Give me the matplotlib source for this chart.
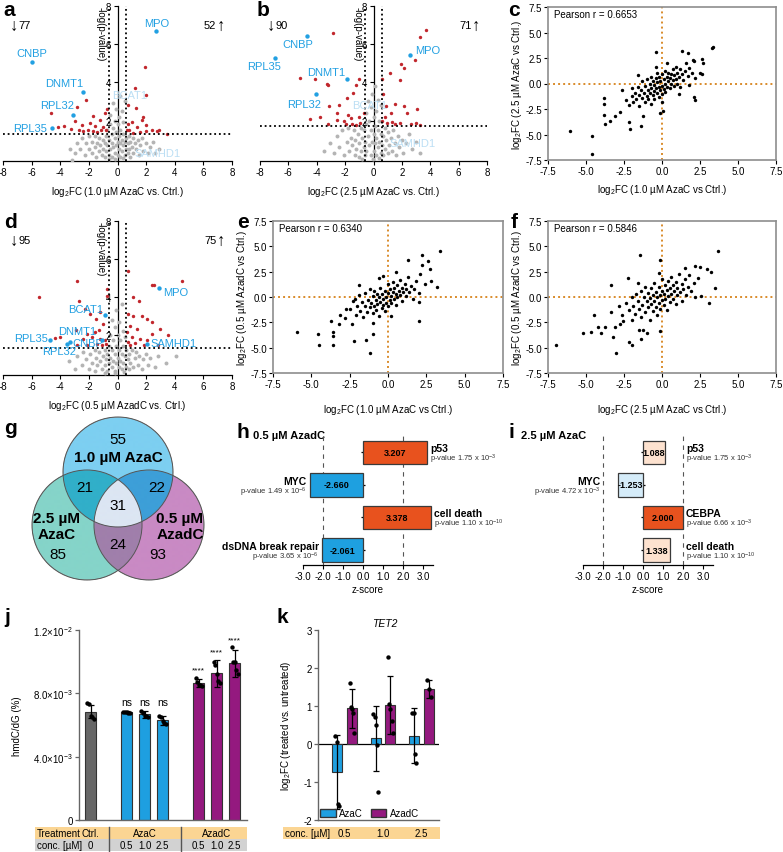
import matplotlib
matplotlib.use('Agg')
import matplotlib.pyplot as plt
import numpy as np
from matplotlib.patches import Circle, Rectangle, Patch
from matplotlib.colors import to_rgba
from matplotlib.transforms import blended_transform_factory

plt.rcParams['font.family'] = ['Liberation Sans', 'DejaVu Sans']
plt.rcParams['mathtext.fontset'] = 'custom'
plt.rcParams['mathtext.rm'] = 'Liberation Sans'
plt.rcParams['mathtext.it'] = 'Liberation Sans:italic'
plt.rcParams['mathtext.bf'] = 'Liberation Sans:bold'
plt.rcParams['mathtext.default'] = 'rm'
plt.rcParams['axes.unicode_minus'] = False
plt.rcParams['font.size'] = 7

# ---------------- data ----------------
# volcano a (1.0 uM AzaC vs Ctrl)
a_gray_x = [-3.3, -3.0, -2.8, -2.6, -2.5, -2.3, -2.2, -2.0, -2.0, -1.8, -1.8, -1.6, -1.6, -1.5, -1.4, -1.3, -1.3, -1.2, -1.1, -1.0,
            -1.0, -0.9, -0.9, -0.8, -0.8, -0.7, -0.7, -0.6, -0.6, -0.5, -0.5, -0.5, -0.4, -0.4, -0.4, -0.3, -0.3, -0.3, -0.2, -0.2,
            -0.2, -0.1, -0.1, -0.1, 0.0, 0.0, 0.0, 0.1, 0.1, 0.1, 0.2, 0.2, 0.2, 0.2, 0.3, 0.3, 0.3, 0.4, 0.4, 0.4,
            0.5, 0.5, 0.5, 0.6, 0.6, 0.7, 0.7, 0.8, 0.8, 0.9, 0.9, 1.0, 1.1, 1.1, 1.2, 1.3, 1.4, 1.5, 1.6, 1.7,
            1.8, 2.0, 2.1, 2.3, 2.5, 2.6, 2.9, -0.15, 0.35, -0.6, -3.2]
a_gray_y = [0.5, 0.3, 0.8, 0.5, 1.1, 0.2, 0.8, 0.5, 1.2, 0.3, 0.9, 0.6, 1.2, 0.1, 0.8, 0.4, 1.1, 0.7, 0.2, 1.0,
            0.5, 0.8, 0.1, 1.2, 0.4, 0.7, 1.5, 0.2, 1.0, 0.5, 1.8, 2.3, 0.8, 1.3, 0.1, 2.9, 0.6, 1.6, 0.3, 1.1,
            2.0, 0.7, 1.4, 2.6, 0.2, 0.9, 1.8, 0.5, 1.2, 2.2, 0.1, 0.8, 1.5, 3.3, 0.4, 1.0, 2.5, 0.7, 1.3, 1.9,
            0.2, 0.9, 3.0, 0.5, 1.1, 0.3, 0.8, 1.2, 0.5, 0.1, 0.9, 0.6, 1.1, 0.3, 0.8, 0.5, 1.0, 0.2, 0.7, 1.1,
            0.4, 0.8, 0.3, 0.6, 0.9, 0.3, 0.5, 0.0, 0.05, 0.0, -0.05]
a_red_x = [-4.65, -2.85, -2.2, -3.74, -4.14, -3.27, -2.51, -1.93, -2.04, -1.58, -1.22, -1.18, -0.81, -0.76, -1.0, -1.4, -1.7,
           -2.4, -2.7, -0.84, -1.7, -2.96,
           1.92, 1.22, 2.0, 1.31, 0.73, 1.75, 2.0, 2.39, 2.93, 3.43, 2.74, 1.58, 1.11, 0.76, 0.99, 0.83, 1.35, 1.99, 0.65, 1.7]
a_red_y = [2.37, 2.72, 3.1, 1.7, 1.67, 1.54, 1.79, 1.89, 1.49, 1.7, 2.02, 1.49, 1.49, 2.63, 1.67, 1.4, 1.44,
           1.44, 1.52, 2.37, 2.25, 2.0,
           4.82, 3.72, 3.33, 2.67, 2.82, 2.19, 1.75, 1.49, 1.49, 1.32, 1.44, 1.4, 1.37, 1.84, 1.93, 1.49, 1.67, 1.44, 1.49, 2.02]
a_genes = ['CNBP', 'DNMT1', 'RPL32', 'RPL35', 'MPO']
a_gene_x = [-6.0, -2.39, -3.13, -4.6, 2.67]
a_gene_y = [5.09, 3.51, 2.28, 1.6, 6.67]
a_faded = ['BCAT1', 'SAMHD1']
a_counts = [77, 52]
a_thr = 1.28

# volcano b (2.5 uM AzaC vs Ctrl)
b_gray_x = [-3.5, -3.1, -2.8, -2.6, -2.4, -2.2, -2.1, -1.9, -1.8, -1.7, -1.6, -1.5, -1.4, -1.3, -1.3, -1.2, -1.1, -1.0, -1.0, -0.9,
            -0.9, -0.8, -0.7, -0.7, -0.6, -0.6, -0.5, -0.5, -0.5, -0.4, -0.4, -0.3, -0.3, -0.2, -0.2, -0.2, -0.1, -0.1, 0.0, 0.0,
            0.0, 0.1, 0.1, 0.1, 0.2, 0.2, 0.2, 0.3, 0.3, 0.3, 0.4, 0.4, 0.5, 0.5, 0.5, 0.6, 0.7, 0.7, 0.8, 0.8,
            0.9, 1.0, 1.0, 1.1, 1.2, 1.3, 1.4, 1.5, 1.6, 1.7, 1.8, 2.0, 2.1, 2.3, 2.5, 2.7, 3.0, 3.3, -0.05, 0.4, -0.8]
b_gray_y = [0.4, 0.8, 0.3, 1.2, 0.6, 1.5, 0.2, 0.9, 1.6, 0.4, 1.1, 0.7, 1.5, 0.2, 1.0, 0.5, 1.3, 0.8, 0.1, 1.6,
            0.4, 1.1, 0.6, 1.5, 0.2, 0.9, 1.8, 2.4, 0.4, 1.2, 3.0, 0.7, 2.0, 0.2, 1.5, 2.7, 0.9, 3.4, 0.4, 1.3,
            2.2, 0.8, 1.7, 3.8, 0.2, 1.1, 2.5, 0.6, 1.5, 3.1, 0.9, 2.0, 0.3, 1.3, 2.8, 0.7, 1.2, 0.2, 1.6, 0.5,
            1.0, 0.3, 1.4, 0.7, 1.1, 0.4, 1.5, 0.8, 0.2, 1.2, 0.6, 1.0, 0.3, 0.8, 1.3, 0.5, 0.9, 0.3, 0.0, 0.05, 0.0]
b_red_x = [-2.84, -5.19, -4.15, -3.26, -3.2, -3.15, -3.8, -4.5, -2.46, -2.55, -1.85, -1.48, -1.2, -1.0, -1.97, -1.62, -1.03,
           -0.68, -0.94, -1.79, -2.6, -3.2, -1.5, -1.2, -2.08,
           3.71, 3.31, 2.96, 1.94, 2.18, 1.9, 1.14, 0.6, 0.67, 0.9, 2.18, 2.37, 3.07, 1.5, 1.2, 0.8, 0.6, 1.33, 1.84,
           2.66, 3.02, 0.94, 1.5, 3.3]
b_red_y = [6.61, 4.21, 4.16, 3.9, 3.85, 2.77, 2.2, 2.08, 2.81, 2.37, 3.16, 3.42, 3.86, 4.2, 1.84, 2.11, 2.19,
           2.37, 1.89, 2.28, 2.02, 1.84, 1.84, 1.79, 1.96,
           6.75, 6.35, 5.18, 4.96, 4.74, 4.1, 4.5, 4.2, 3.4, 2.77, 2.77, 2.37, 2.63, 2.86, 2.42, 2.16, 1.98, 1.93, 1.86,
           1.84, 1.89, 1.89, 1.84, 1.79]
b_genes = ['CNBP', 'RPL35', 'DNMT1', 'RPL32', 'MPO']
b_gene_x = [-4.67, -6.97, -1.9, -4.08, 2.56]
b_gene_y = [6.44, 5.26, 4.17, 3.38, 5.44]
b_faded = ['BCAT1', 'SAMHD1']
b_counts = [90, 71]
b_thr = 1.73

# volcano d (0.5 uM AzadC vs Ctrl)
d_gray_x = [-3.4, -3.0, -2.8, -2.5, -2.4, -2.2, -2.0, -1.9, -1.8, -1.6, -1.6, -1.5, -1.4, -1.3, -1.2, -1.1, -1.0, -0.9, -0.9, -0.8,
            -0.7, -0.7, -0.6, -0.6, -0.5, -0.5, -0.4, -0.4, -0.4, -0.3, -0.3, -0.2, -0.2, -0.2, -0.1, -0.1, -0.1, 0.0, 0.0, 0.1,
            0.1, 0.1, 0.2, 0.2, 0.3, 0.3, 0.3, 0.4, 0.4, 0.4, 0.5, 0.5, 0.6, 0.6, 0.7, 0.8, 0.8, 0.9, 1.0, 1.1,
            1.2, 1.3, 1.4, 1.5, 1.7, 1.8, 2.0, 2.1, 2.3, 2.6, 2.8, 3.4, -0.15, 0.45, -0.9, 4.1]
d_gray_y = [0.6, 0.2, 0.9, 0.4, 1.1, 0.7, 0.2, 1.0, 0.5, 1.2, 0.1, 0.8, 0.4, 1.1, 0.6, 0.2, 0.9, 0.4, 1.2, 0.7,
            0.1, 1.0, 0.5, 1.4, 2.0, 0.8, 2.8, 0.3, 1.2, 1.7, 0.6, 2.4, 1.0, 0.1, 3.3, 1.4, 0.5, 2.0, 0.8, 2.7,
            1.2, 0.3, 1.7, 0.6, 3.6, 1.0, 0.2, 2.2, 1.4, 0.5, 0.9, 1.9, 0.3, 1.2, 0.7, 0.2, 1.0, 0.5, 1.2, 0.3,
            0.8, 1.1, 0.4, 0.9, 0.2, 0.7, 1.0, 0.4, 0.8, 0.3, 0.9, 0.5, 0.0, 0.05, 0.0, 0.9]
d_red_x = [-2.81, -5.47, -2.67, -2.27, -1.92, -1.5, -1.22, -0.71, -0.76, -0.99, -1.27, -1.57, -2.15, -2.9, -4.0, -4.35, -2.4,
           -1.8, -1.22, -0.87, -0.8, -1.45, -2.15, -2.84, -1.1,
           2.39, 2.57, 4.52, 0.71, 1.11, 1.47, 0.76, 1.11, 1.7, 2.04, 2.39, 2.97, 3.55, 2.43, 1.35, 0.88, 0.65, 1.0, 1.58,
           2.04, 0.76, 1.23, 1.82, 0.88, 2.85]
d_red_y = [4.86, 3.98, 3.8, 3.35, 3.1, 2.84, 3.19, 4.42, 4.07, 2.58, 2.23, 2.14, 2.05, 2.23, 1.88, 1.82, 1.79,
           1.88, 1.79, 1.7, 1.53, 1.53, 1.47, 1.44, 1.44,
           4.63, 4.63, 4.86, 5.39, 3.98, 3.8, 3.1, 3.0, 3.0, 2.84, 2.67, 2.32, 2.0, 2.05, 2.32, 2.49, 2.14, 1.88, 1.79,
           1.7, 1.61, 1.58, 1.47, 1.44, 1.47]
d_genes = ['MPO', 'BCAT1', 'DNMT1', 'CNBP', 'RPL35', 'RPL32', 'SAMHD1']
d_gene_x = [2.92, -0.87, -1.1, -3.3, -4.72, -3.55, 2.04]
d_gene_y = [4.46, 3.02, 1.75, 1.6, 1.7, 1.5, 1.49]
d_faded = []
d_counts = [95, 75]
d_thr = 1.32

# scatter c: 1.0 uM AzaC (x) vs 2.5 uM AzaC (y)
c_x = [-2.4, -2.2, -2.0, -2.0, -1.9, -1.8, -1.7, -1.6, -1.5, -1.5, -1.4, -1.3, -1.3, -1.2, -1.1, -1.1, -1.0, -1.0, -0.9, -0.9,
       -0.8, -0.8, -0.7, -0.7, -0.7, -0.6, -0.6, -0.5, -0.5, -0.5, -0.4, -0.4, -0.3, -0.3, -0.3, -0.2, -0.2, -0.2, -0.1, -0.1,
       0.0, 0.0, 0.0, 0.1, 0.1, 0.2, 0.2, 0.2, 0.3, 0.3, 0.4, 0.4, 0.5, 0.5, 0.6, 0.6, 0.7, 0.7, 0.8, 0.8,
       0.9, 0.9, 1.0, 1.0, 1.1, 1.2, 1.2, 1.3, 1.4, 1.5, 1.6, 1.7, 1.8, 2.0, 2.1, 2.2, 0.3, -0.4, -1.6, 1.1,
       0.0, -2.6, -6.05, -4.63, -4.63, 3.38, 3.3, -0.39, 1.3, 1.74, 2.07, 2.62, 2.73, 2.5, 2.6, 2.1, 1.8, -3.82,
       -3.8, -3.8, -3.74, -3.1, -3.42, -2.76, -2.2, -2.1, -1.35, -1.23, 0.09, 2.2, -0.1]
c_y = [-1.6, -2.1, -1.2, -0.4, -1.8, -0.9, -1.5, -0.3, -1.1, -2.2, -0.6, -1.4, 0.2, -0.9, -1.8, -0.2, -1.2, 0.4, -0.6, -1.5,
       0.0, -0.9, -0.4, -2.0, 0.6, -1.1, 0.2, -0.7, -0.1, -1.5, 0.5, -0.4, -0.9, 0.1, 1.0, -0.3, -1.3, 0.6, -0.6, 0.2,
       -0.2, 0.9, -1.0, 0.4, -0.5, 0.0, 1.2, -0.8, 0.6, -0.3, 0.2, 1.0, -0.4, 0.5, 0.9, 0.0, 1.4, 0.3, -0.2, 0.8,
       0.4, 1.6, 0.0, 1.0, 0.6, 1.4, -0.3, 0.9, 0.3, 1.2, 2.0, 0.7, 1.5, 1.0, 2.2, 0.5, 2.0, 1.6, 0.8, -1.0,
       -1.8, -0.6, -4.62, -5.18, -6.9, 3.57, 3.5, 3.12, 3.2, 3.0, 2.3, 2.43, 2.0, 1.0, 0.9, -1.37, -0.1, -1.45,
       -1.99, -3.1, -4.0, -3.15, -3.7, -2.83, -3.8, -4.45, -4.15, -3.15, -2.67, -1.6, -2.9]
c_r = '0.6653'

# scatter e: 1.0 uM AzaC (x) vs 0.5 uM AzadC (y)
e_x = [-2.5, -2.3, -2.1, -2.0, -1.9, -1.8, -1.7, -1.6, -1.5, -1.5, -1.4, -1.3, -1.2, -1.2, -1.1, -1.0, -1.0, -0.9, -0.9, -0.8,
       -0.8, -0.7, -0.7, -0.6, -0.6, -0.5, -0.5, -0.4, -0.4, -0.3, -0.3, -0.2, -0.2, -0.1, -0.1, 0.0, 0.0, 0.0, 0.1, 0.1,
       0.2, 0.2, 0.3, 0.3, 0.4, 0.4, 0.5, 0.5, 0.6, 0.6, 0.7, 0.8, 0.8, 0.9, 0.9, 1.0, 1.1, 1.2, 1.2, 1.3,
       1.4, 1.5, 1.6, 1.7, 1.8, 2.0, 2.1, -0.3, 0.5, -2.8, -1.0, 0.2,
       3.39, 2.24, 2.59, 1.28, 2.74, 2.24, 2.8, 3.2, 2.39, 2.04, 2.0, -5.96, -4.54, -4.5, -3.6, -3.6, -3.56, -3.72,
       -3.22, -3.12, -2.2, -1.44, -1.17, -0.96, -1.87, -2.15, -2.74, -2.37, -0.61]
e_y = [-1.2, -0.4, -1.8, -0.9, 0.2, -1.4, -0.5, -2.0, -0.9, 0.4, -1.5, -0.3, -1.0, 0.8, -0.6, -1.6, 0.1, -0.9, 0.6, -0.3,
       -1.3, 0.3, -0.7, -1.9, 0.0, -0.5, 0.9, -1.1, 0.3, -0.2, -0.8, 0.6, -1.4, 0.0, -0.6, 0.4, 1.3, -0.9, -0.3, 0.8,
       0.1, -0.6, 0.5, 1.5, -0.2, 0.9, 0.3, -0.8, 1.2, 0.0, 0.6, 1.7, 0.2, 0.9, -0.4, 0.5, 1.3, 0.1, 0.8, 2.0,
       0.5, 1.1, -0.2, 0.8, 1.6, 0.4, 2.3, 2.1, 2.5, -2.1, -2.6, -1.9,
       4.57, 4.17, 3.59, 3.62, 2.77, 3.15, 1.6, 0.95, 1.29, -0.52, -2.33, -3.42, -3.65, -4.74, -3.5, -3.85, -4.74, -2.33,
       -2.67, -1.78, -4.38, -4.2, -5.56, -3.65, 1.18, -0.19, -1.18, -2.67, 1.9]
e_r = '0.6340'

# scatter f: 2.5 uM AzaC (x) vs 0.5 uM AzadC (y)
f_x = [-2.6, -2.4, -2.2, -2.0, -2.0, -1.9, -1.8, -1.7, -1.6, -1.5, -1.4, -1.4, -1.3, -1.2, -1.1, -1.1, -1.0, -0.9, -0.9, -0.8,
       -0.8, -0.7, -0.7, -0.6, -0.6, -0.5, -0.5, -0.4, -0.4, -0.3, -0.3, -0.2, -0.2, -0.1, -0.1, 0.0, 0.0, 0.0, 0.1, 0.1,
       0.2, 0.2, 0.3, 0.3, 0.4, 0.4, 0.5, 0.5, 0.6, 0.6, 0.7, 0.7, 0.8, 0.9, 0.9, 1.0, 1.0, 1.1, 1.2, 1.3,
       1.3, 1.4, 1.5, 1.6, 1.7, 1.8, 1.9, 2.1, 2.2, 2.4, -0.2, -1.6, -2.8,
       3.66, -1.45, -0.13, 2.17, 2.94, 3.22, 2.5, 1.5, -2.22, -3.38, 2.58, 3.5, 3.08, -6.97, -5.22, -4.67, -4.47, -4.19,
       -4.04, -3.75, -3.38, -3.2, -3.03, -2.15, -2.0, -1.5, -1.27, -1.4, -1.0, -0.13, -2.59, -2.78, -3.1]
f_y = [-1.8, -0.6, -1.3, -2.3, 0.0, -0.9, -1.7, 0.3, -0.4, -1.2, -2.0, 0.6, -0.8, 0.0, -1.5, 1.0, -0.4, -1.0, 0.4, -2.3,
       -0.1, -0.7, 0.9, -1.4, 0.2, -0.4, 1.4, -1.0, 0.5, 0.0, -1.8, -0.6, 1.0, 0.2, -1.2, 0.6, -0.3, 1.8, -0.8, 0.3,
       1.2, -0.2, 0.7, -1.3, 0.1, 1.6, -0.5, 0.9, 0.3, 2.0, -0.2, 1.2, 0.6, -0.7, 1.5, 0.2, 0.9, 2.3, 0.5, 1.3,
       -0.4, 0.8, 1.8, 0.2, 1.0, 2.2, 0.6, 1.4, 0.0, 1.9, 2.4, 1.4, -0.9,
       4.57, 4.15, 3.62, 3.09, 2.77, 2.5, 2.95, 2.86, 1.85, 1.2, 0.06, 0.9, -0.6, -4.7, -3.6, -3.43, -1.78, -2.93,
       -3.55, -3.0, -1.5, -3.97, -5.56, -4.41, -4.74, -3.26, -3.26, -4.15, -3.55, -3.33, -2.33, -2.67, -3.0]
f_r = '0.5846'

# Venn g
venn_sets = ['1.0 µM AzaC', '2.5 µM\nAzaC', '0.5 µM\nAzadC']
venn_only = [55, 85, 93]          # top, left, right only
venn_pairs = [21, 22, 24]         # top&left, top&right, left&right
venn_all = 31

# IPA z-scores h / i
h_terms = ['p53', 'MYC', 'cell death', 'dsDNA break repair']
h_z = [3.207, -2.660, 3.378, -2.061]
h_p = ['1.75 x 10$^{-3}$', '1.49 x 10$^{-6}$', '1.10 x 10$^{-10}$', '3.65 x 10$^{-6}$']
i_terms = ['p53', 'MYC', 'CEBPA', 'cell death']
i_z = [1.088, -1.253, 2.000, 1.338]
i_p = ['1.75 x 10$^{-3}$', '4.72 x 10$^{-3}$', '6.66 x 10$^{-3}$', '1.10 x 10$^{-10}$']

# j: hmdC/dG
j_treat = ['Ctrl.', 'AzaC', 'AzaC', 'AzaC', 'AzadC', 'AzadC', 'AzadC']
j_conc = ['0', '0.5', '1.0', '2.5', '0.5', '1.0', '2.5']
j_mean = [6.84e-3, 6.80e-3, 6.67e-3, 6.30e-3, 8.63e-3, 9.27e-3, 9.90e-3]
j_sd = [0.42e-3, 0.07e-3, 0.22e-3, 0.30e-3, 0.25e-3, 0.85e-3, 0.85e-3]
j_points = [[7.40e-3, 7.30e-3, 6.60e-3, 6.50e-3, 6.40e-3],
            [6.85e-3, 6.80e-3, 6.80e-3, 6.78e-3, 6.77e-3],
            [6.90e-3, 6.75e-3, 6.60e-3, 6.60e-3, 6.50e-3],
            [6.60e-3, 6.50e-3, 6.25e-3, 6.10e-3, 6.05e-3],
            [8.95e-3, 8.70e-3, 8.55e-3, 8.50e-3, 8.45e-3],
            [9.95e-3, 9.80e-3, 9.20e-3, 8.75e-3, 8.65e-3],
            [10.9e-3, 10.0e-3, 9.95e-3, 9.45e-3, 9.20e-3]]
j_sig = ['', 'ns', 'ns', 'ns', '****', '****', '****']

# k: TET2 log2FC
k_conc = ['0.5', '1.0', '2.5']
k_aza_mean = [-0.73, 0.15, 0.22]
k_aza_sd = [0.97, 0.85, 0.72]
k_aza_pts = [[0.22, 0.05, -1.58, -1.62], [0.78, 0.70, 0.50, -0.02, -1.25], [0.82, 0.82, -0.27, -0.50]]
k_azad_mean = [0.94, 1.03, 1.45]
k_azad_sd = [0.52, 0.77, 0.23]
k_azad_pts = [[1.60, 0.98, 0.92, 0.82, 0.30], [2.30, 1.05, 0.92, 0.60, 0.30], [1.68, 1.45, 1.25]]

# ---------------- layout helpers ----------------
W, H = 783, 853
BLUE = '#1e9fe0'
PURPLE = '#94197f'
ORANGE_BG = '#fbd593'
GRAY_BG = '#d2d2d2'


def box(l, t, r, b):
    return [l / W, 1 - b / H, (r - l) / W, (b - t) / H]


fig = plt.figure(figsize=(W / 100, H / 100), dpi=100)
canvas = fig.add_axes([0, 0, 1, 1])
canvas.set_xlim(0, W)
canvas.set_ylim(H, 0)
canvas.axis('off')

for letter, x, y in [('a', 3, 16), ('b', 257, 16), ('c', 508, 16), ('d', 4, 228), ('e', 237, 228),
                     ('f', 511, 228), ('g', 4, 434), ('h', 236, 438), ('i', 509, 438), ('j', 4, 623),
                     ('k', 277, 623)]:
    canvas.text(x, y, letter, fontsize=15, fontweight='bold', va='baseline', ha='left')

DOT = (0, (1, 1.6))


def volcano(ax, gx, gy, rx, ry, genes, genx, geny, labpos, faded, fadedpos, thr, counts, xlabel):
    ax.scatter(gx, gy, s=8, color='#b4b4b4', lw=0, zorder=1)
    ax.scatter(rx, ry, s=6, color='#c1272d', lw=0, zorder=2)
    ax.axhline(thr, color='black', ls=DOT, lw=1.3, zorder=3)
    for v in (-0.58, 0.58):
        ax.axvline(v, color='black', ls=DOT, lw=1.3, zorder=3)
    for g, x, y, (tx, ty, ha) in zip(genes, genx, geny, labpos):
        ax.scatter([x], [y], s=10, color='#22a0e2', lw=0, zorder=4)
        ax.text(tx, ty, g, color='#22a0e2', ha=ha, va='center', fontsize=8, zorder=5)
    for g, (tx, ty, ha) in zip(faded, fadedpos):
        ax.text(tx, ty, g, color='#bcdff4', ha=ha, va='center', fontsize=8, zorder=5)
    ax.text(-7.55, 7.0, '↓', ha='left', va='center', fontsize=12)
    ax.text(-6.9, 7.0, str(counts[0]), ha='left', va='center', fontsize=8)
    ax.text(7.55, 7.0, '↑', ha='right', va='center', fontsize=12)
    ax.text(6.9, 7.0, str(counts[1]), ha='right', va='center', fontsize=8)
    ax.set_xlim(-8, 8)
    ax.set_ylim(-0.12, 8)
    ax.spines['left'].set_position(('data', 0))
    ax.spines[['top', 'right']].set_visible(False)
    for s in ('left', 'bottom'):
        ax.spines[s].set_linewidth(0.9)
        ax.spines[s].set_zorder(0.5)
    ax.set_xticks(range(-8, 9, 2))
    ax.set_yticks([2, 4, 6, 8])
    ax.tick_params(labelsize=7, length=3, width=0.8, pad=1.5)
    ax.text(-1.15, 8.0, '-log(p-value)', rotation=270, ha='center', va='top', fontsize=7)
    ax.set_xlabel(xlabel, fontsize=7, labelpad=5)
    ax.patch.set_visible(False)


ax_a = fig.add_axes(box(3, 7, 232, 162))
volcano(ax_a, a_gray_x, a_gray_y, a_red_x, a_red_y, a_genes, a_gene_x, a_gene_y,
        [(-6.0, 5.55, 'center'), (-2.4, 3.95, 'right'), (-3.0, 2.8, 'right'), (-4.9, 1.63, 'right'), (2.74, 7.1, 'center')],
        a_faded, [(-0.4, 3.33, 'left'), (1.2, 0.32, 'left')], a_thr, a_counts,
        'log$_2$FC (1.0 µM AzaC vs. Ctrl.)')

ax_b = fig.add_axes(box(260, 7, 487, 162))
volcano(ax_b, b_gray_x, b_gray_y, b_red_x, b_red_y, b_genes, b_gene_x, b_gene_y,
        [(-5.3, 6.0, 'center'), (-7.7, 4.84, 'center'), (-3.32, 4.56, 'center'), (-4.86, 2.89, 'center'), (2.9, 5.7, 'left')],
        b_faded, [(-1.5, 2.8, 'left'), (1.15, 0.84, 'left')], b_thr, b_counts,
        'log$_2$FC (2.5 µM AzaC vs. Ctrl.)')

ax_d = fig.add_axes(box(3, 222, 232, 376))
volcano(ax_d, d_gray_x, d_gray_y, d_red_x, d_red_y, d_genes, d_gene_x, d_gene_y,
        [(3.16, 4.28, 'left'), (-1.0, 3.37, 'right'), (-1.45, 2.19, 'right'), (-3.15, 1.58, 'left'),
         (-4.84, 1.83, 'right'), (-2.9, 1.17, 'right'), (2.27, 1.58, 'left')],
        d_faded, [], d_thr, d_counts,
        'log$_2$FC (0.5 µM AzadC vs. Ctrl.)')


def corr(ax, x, y, r, xlabel, ylabel, xpad):
    ax.axhline(0, color='#d98b2b', ls=DOT, lw=1.4, zorder=1)
    ax.axvline(0, color='#d98b2b', ls=DOT, lw=1.4, zorder=1)
    ax.scatter(x, y, s=6, color='black', lw=0, zorder=2)
    ax.set_xlim(-7.5, 7.5)
    ax.set_ylim(-7.5, 7.5)
    t = [-7.5, -5.0, -2.5, 0.0, 2.5, 5.0, 7.5]
    ax.set_xticks(t)
    ax.set_yticks(t)
    ax.set_xticklabels(['%.1f' % v for v in t])
    ax.set_yticklabels(['%.1f' % v for v in t])
    for sp in ax.spines.values():
        sp.set_color('#8e8e8e')
        sp.set_linewidth(1.2)
    ax.tick_params(length=3, width=0.8, labelsize=7, pad=1.5)
    ax.text(0.025, 0.955, 'Pearson r = ' + r, transform=ax.transAxes, va='center', ha='left', fontsize=7)
    ax.set_xlabel(xlabel, fontsize=7, labelpad=xpad)
    ax.set_ylabel(ylabel, fontsize=7, labelpad=1)


ax_c = fig.add_axes(box(548, 8, 776, 161))
corr(ax_c, c_x, c_y, c_r, 'log$_2$FC (1.0 µM AzaC vs Ctrl.)', 'log$_2$FC (2.5 µM AzaC vs Ctrl.)', 4)
ax_e = fig.add_axes(box(273, 222, 503, 374))
corr(ax_e, e_x, e_y, e_r, 'log$_2$FC (1.0 µM AzaC vs Ctrl.)', 'log$_2$FC (0.5 µM AzadC vs Ctrl.)', 9)
ax_f = fig.add_axes(box(548, 222, 776, 374))
corr(ax_f, f_x, f_y, f_r, 'log$_2$FC (2.5 µM AzaC vs Ctrl.)', 'log$_2$FC (0.5 µM AzadC vs Ctrl.)', 9)

# ---------------- g: Venn ----------------
ax_g = fig.add_axes(box(0, 405, 240, 600))
ax_g.set_xlim(0, 240)
ax_g.set_ylim(600, 405)
ax_g.axis('off')
centers = [(118, 473), (87, 526), (149, 526)]
R = 55
xx, yy = np.meshgrid(np.linspace(0, 240, 721), np.linspace(405, 600, 586))
inside = [(xx - cx) ** 2 + (yy - cy) ** 2 <= R ** 2 for cx, cy in centers]
img = np.zeros(xx.shape + (4,))
region_cols = {(1, 0, 0): '#7dcff1', (0, 1, 0): '#85d4c9', (0, 0, 1): '#c98ac4',
               (1, 1, 0): '#31afc9', (1, 0, 1): '#3d9fd8', (0, 1, 1): '#a07fab', (1, 1, 1): '#dce6f3'}
for key, col in region_cols.items():
    m = np.ones(xx.shape, bool)
    for k, inn in zip(key, inside):
        m &= inn if k else ~inn
    img[m] = to_rgba(col)
ax_g.imshow(img, extent=(0, 240, 600, 405), origin='upper', interpolation='bilinear', aspect='auto')
for cx, cy in centers:
    ax_g.add_patch(Circle((cx, cy), R, fill=False, ec='#555555', lw=0.7))
vfs = 11
ax_g.text(118, 440, str(venn_only[0]), ha='center', va='center', fontsize=vfs)
ax_g.text(118, 458, venn_sets[0], ha='center', va='center', fontsize=vfs, fontweight='bold')
ax_g.text(57, 527, venn_sets[1], ha='center', va='center', fontsize=vfs, fontweight='bold', linespacing=1.2)
ax_g.text(58, 555, str(venn_only[1]), ha='center', va='center', fontsize=vfs)
ax_g.text(180, 527, venn_sets[2], ha='center', va='center', fontsize=vfs, fontweight='bold', linespacing=1.2)
ax_g.text(158, 555, str(venn_only[2]), ha='center', va='center', fontsize=vfs)
ax_g.text(85, 488, str(venn_pairs[0]), ha='center', va='center', fontsize=vfs)
ax_g.text(157, 488, str(venn_pairs[1]), ha='center', va='center', fontsize=vfs)
ax_g.text(118, 545, str(venn_pairs[2]), ha='center', va='center', fontsize=vfs)
ax_g.text(118, 506, str(venn_all), ha='center', va='center', fontsize=vfs)


# ---------------- h / i: z-scores ----------------
def zbars(ax, terms, z, pv):
    cols = []
    for v in z:
        if v > 0:
            cols.append('#e8521e' if v >= 2 else '#fde2cf')
        else:
            cols.append('#1ea0e0' if v <= -2 else '#d5ecf9')
    yy_ = np.arange(len(z))
    for v in (-2, 2):
        ax.axvline(v, color='#555555', ls=(0, (4, 4)), lw=0.8, zorder=0)
    ax.barh(yy_, z, height=0.72, color=cols, edgecolor='#3a3a3a', lw=0.9, zorder=2)
    for i, (t, v, p) in enumerate(zip(terms, z, pv)):
        ax.text(v / 2, i, '%.3f' % v, ha='center', va='center', fontsize=6.5, fontweight='bold', zorder=3)
        if v > 0:
            lx, ha = max(v, 2.0) + 0.15, 'left'
        else:
            lx, ha = min(v, -2.0) - 0.15, 'right'
        ax.text(lx, i - 0.13, t, ha=ha, va='center', fontsize=7.5, fontweight='bold')
        ax.text(lx, i + 0.19, 'p-value ' + p, ha=ha, va='center', fontsize=5.5, color='#333333')
    ax.set_xlim(-3, 3.5)
    ax.set_ylim(3.46, -0.5)
    ax.spines['left'].set_position(('data', 0))
    ax.spines['left'].set_visible(False)
    ax.spines[['top', 'right']].set_visible(False)
    ax.spines['bottom'].set_linewidth(0.9)
    ax.set_yticks(yy_)
    ax.set_yticklabels([])
    ax.set_xticks(np.arange(-3, 3.1, 1))
    ax.set_xticklabels(['%.1f' % v for v in np.arange(-3, 3.1, 1)])
    ax.tick_params(axis='y', length=3, width=0.9, direction='inout')
    ax.tick_params(axis='x', length=3, width=0.8, labelsize=7, pad=1.5)
    ax.set_xlabel('z-score', fontsize=7, labelpad=2)
    ax.patch.set_visible(False)


ax_h = fig.add_axes(box(303, 437, 433, 566))
zbars(ax_h, h_terms, h_z, h_p)
canvas.text(253, 439, '0.5 µM AzadC', fontsize=8, fontweight='bold', ha='left', va='baseline')
ax_i = fig.add_axes(box(583, 437, 713, 566))
zbars(ax_i, i_terms, i_z, i_p)
canvas.text(521, 439, '2.5 µM AzaC', fontsize=8, fontweight='bold', ha='left', va='baseline')

# ---------------- j: hmdC/dG ----------------
treat_col = {'Ctrl.': '#666666', 'AzaC': BLUE, 'AzadC': PURPLE}
ax_j = fig.add_axes(box(79, 631, 247, 821))
pos_j = [0, 2, 3, 4, 6, 7, 8]
ax_j.bar(pos_j, j_mean, width=0.6, color=[treat_col[t] for t in j_treat], edgecolor='#333333', lw=0.8, zorder=2)
ax_j.errorbar(pos_j, j_mean, yerr=j_sd, fmt='none', ecolor='black', elinewidth=0.9, capsize=2.5, capthick=0.9, zorder=3)
offs5 = [-0.17, -0.09, 0.0, 0.09, 0.17]
for p, pts in zip(pos_j, j_points):
    ax_j.scatter([p + o for o in offs5[:len(pts)]], pts, s=10, color='black', lw=0, zorder=4)
ns_top = max(max(max(pts), m + s) for pts, m, s, g in zip(j_points, j_mean, j_sd, j_sig) if g == 'ns')
for p, pts, m, s, g in zip(pos_j, j_points, j_mean, j_sd, j_sig):
    if g == 'ns':
        ax_j.text(p, ns_top + 0.55e-3, g, ha='center', va='center', fontsize=7.5)
    elif g:
        ax_j.text(p, max(max(pts), m + s) + 0.5e-3, g, ha='center', va='center', fontsize=6)
ax_j.set_xlim(-0.64, 8.69)
ax_j.set_ylim(0, 0.012)
ax_j.set_xticks([])
ax_j.set_yticks([0, 0.004, 0.008, 0.012])
ax_j.set_yticklabels(['0', '4.0×10$^{-3}$', '8.0×10$^{-3}$', '1.2×10$^{-2}$'])
ax_j.spines[['top', 'right']].set_visible(False)
for s in ('left', 'bottom'):
    ax_j.spines[s].set_color('#666666')
    ax_j.spines[s].set_linewidth(1.0)
ax_j.tick_params(axis='y', length=3, width=0.9, color='#666666', labelsize=7, pad=1.5)
ax_j.set_ylabel('hmdC/dG (%)', fontsize=7, labelpad=8)

bj = blended_transform_factory(ax_j.transData, canvas.transData)
canvas.add_patch(Rectangle((35, 828), 212, 12, color=ORANGE_BG, lw=0))
canvas.add_patch(Rectangle((35, 840), 212, 12, color=GRAY_BG, lw=0))
for sx in (1.0, 5.0):
    canvas.plot([sx, sx], [828, 852], transform=bj, color='#555555', lw=1.0, clip_on=False)
canvas.text(37, 834, 'Treatment', ha='left', va='center', fontsize=7)
canvas.text(37, 846, 'conc. [µM]', ha='left', va='center', fontsize=7)
for grp in ('Ctrl.', 'AzaC', 'AzadC'):
    gp = [p for p, t in zip(pos_j, j_treat) if t == grp]
    canvas.text(np.mean(gp), 834, grp, transform=bj, ha='center', va='center', fontsize=7)
for p, cc in zip(pos_j, j_conc):
    canvas.text(p, 846, cc, transform=bj, ha='center', va='center', fontsize=7)

# ---------------- k: TET2 ----------------
ax_k = fig.add_axes(box(318, 631, 439, 821))
gk = np.arange(len(k_conc))
ax_k.axhline(0, color='black', lw=0.9, zorder=1)
ax_k.bar(gk - 0.19, k_aza_mean, 0.26, color=BLUE, edgecolor='#333333', lw=0.8, zorder=2, label='AzaC')
ax_k.bar(gk + 0.19, k_azad_mean, 0.26, color=PURPLE, edgecolor='#333333', lw=0.8, zorder=2, label='AzadC')
ax_k.errorbar(gk - 0.19, k_aza_mean, yerr=k_aza_sd, fmt='none', ecolor='black', elinewidth=0.9, capsize=2, capthick=0.9, zorder=3)
ax_k.errorbar(gk + 0.19, k_azad_mean, yerr=k_azad_sd, fmt='none', ecolor='black', elinewidth=0.9, capsize=2, capthick=0.9, zorder=3)
koffs = {3: [-0.04, 0.0, 0.04], 4: [-0.05, -0.017, 0.017, 0.05], 5: [-0.06, -0.03, 0.0, 0.03, 0.06]}
for x0, pts in zip(gk - 0.19, k_aza_pts):
    ax_k.scatter([x0 + o for o in koffs[len(pts)]], pts, s=10, color='black', lw=0, zorder=4)
for x0, pts in zip(gk + 0.19, k_azad_pts):
    ax_k.scatter([x0 + o for o in koffs[len(pts)]], pts, s=10, color='black', lw=0, zorder=4)
ax_k.set_xlim(-0.69, 2.45)
ax_k.set_ylim(-2, 3)
ax_k.set_xticks([])
ax_k.set_yticks(range(-2, 4))
ax_k.spines[['top', 'right']].set_visible(False)
for s in ('left', 'bottom'):
    ax_k.spines[s].set_color('#666666')
    ax_k.spines[s].set_linewidth(1.0)
ax_k.tick_params(axis='y', length=3, width=0.9, color='#666666', labelsize=7, pad=1.5)
ax_k.set_ylabel('log$_2$FC (treated vs. untreated)', fontsize=7, labelpad=7)
ax_k.text(0.55, 1.01, 'TET2', transform=ax_k.transAxes, ha='center', va='bottom', fontsize=7.5, style='italic')
ax_k.legend(handles=[Patch(facecolor=BLUE, edgecolor='#333333', label='AzaC'),
                     Patch(facecolor=PURPLE, edgecolor='#333333', label='AzadC')],
            loc='lower left', ncol=2, frameon=False, fontsize=7, handlelength=1.6, handleheight=0.9,
            handletextpad=0.4, columnspacing=0.8, borderaxespad=0.1, borderpad=0.1)

bk = blended_transform_factory(ax_k.transData, canvas.transData)
canvas.add_patch(Rectangle((283, 828), 157, 12, color=ORANGE_BG, lw=0))
canvas.text(285, 834, 'conc. [µM]', ha='left', va='center', fontsize=7)
for g, cc in zip(gk, k_conc):
    canvas.text(g, 834, cc, transform=bk, ha='center', va='center', fontsize=7)

fig.savefig('out.png', dpi=100)
